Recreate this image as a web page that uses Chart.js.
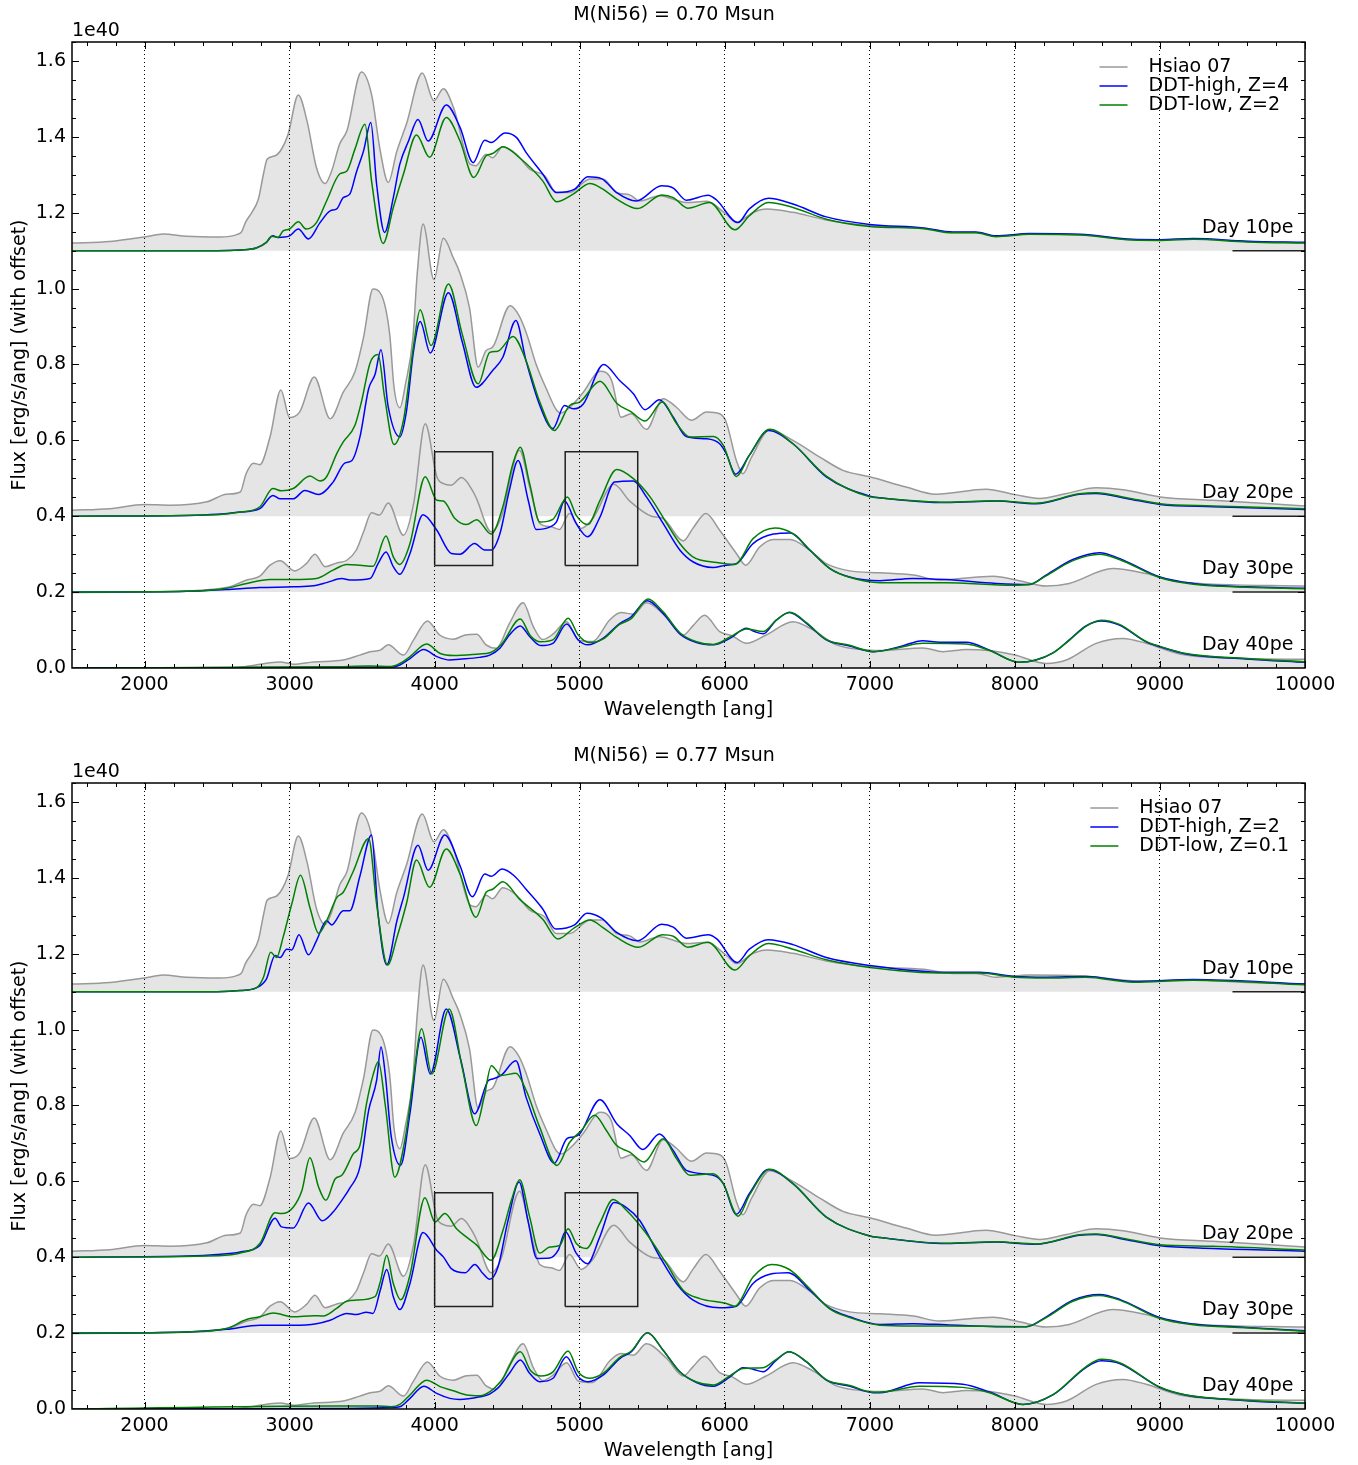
<!DOCTYPE html>
<html>
<head>
<meta charset="utf-8">
<script src="https://cdn.jsdelivr.net/npm/chart.js@4.4.1/dist/chart.umd.min.js"></script>
<style>
  body { margin: 0; background: #fff; }
  canvas { display: block; }
</style>
</head>
<body>
<canvas id="chartTop" width="1358" height="741"></canvas>
<canvas id="chartBottom" width="1358" height="724"></canvas>
<script>
// wavelength [ang], flux incl. offset [1e40 erg/s/ang]
const offsets = [1.1, 0.4, 0.2, 0.0];
const dayLabels = ['Day 10pe', 'Day 20pe', 'Day 30pe', 'Day 40pe'];
const titles = ['M(Ni56) = 0.70 Msun', 'M(Ni56) = 0.77 Msun'];
const legendTop = ['Hsiao 07', 'DDT-high, Z=4', 'DDT-low, Z=2'];
const legendBottom = ['Hsiao 07', 'DDT-high, Z=2', 'DDT-low, Z=0.1'];
const xTicks = [2000, 3000, 4000, 5000, 6000, 7000, 8000, 9000, 10000];
const yTicks = [0.0, 0.2, 0.4, 0.6, 0.8, 1.0, 1.2, 1.4, 1.6];

// Hsiao 07 template (same in both panels)
const hsiao10 = [[1500,1.120],[1760,1.124],[2000,1.136],[2130,1.144],[2290,1.138],[2520,1.136],[2640,1.143],[2670,1.150],[2695,1.174],[2740,1.201],[2785,1.236],[2820,1.302],[2845,1.341],[2900,1.350],[2945,1.368],[2990,1.407],[3060,1.510],[3120,1.442],[3185,1.319],[3245,1.277],[3290,1.310],[3345,1.381],[3395,1.416],[3495,1.571],[3565,1.512],[3625,1.363],[3680,1.280],[3740,1.363],[3805,1.433],[3915,1.568],[3995,1.495],[4060,1.527],[4130,1.477],[4245,1.328],[4285,1.324],[4355,1.354],[4400,1.345],[4470,1.374],[4565,1.354],[4655,1.315],[4760,1.297],[4840,1.253],[4930,1.253],[5070,1.289],[5160,1.289],[5255,1.253],[5345,1.247],[5415,1.231],[5550,1.245],[5735,1.227],[5875,1.230],[6010,1.196],[6080,1.174],[6195,1.201],[6290,1.210],[6470,1.201],[6700,1.181],[7000,1.166],[7370,1.159],[7570,1.148],[7730,1.148],[7870,1.138],[8100,1.144],[8450,1.142],[8810,1.129],[9000,1.128],[9230,1.131],[9600,1.124],[10000,1.121]];
const hsiao20 = [[1500,0.416],[1760,0.420],[2000,0.431],[2175,0.429],[2430,0.438],[2565,0.458],[2660,0.464],[2700,0.512],[2750,0.540],[2795,0.536],[2865,0.609],[2940,0.733],[3000,0.660],[3070,0.675],[3170,0.767],[3280,0.657],[3370,0.727],[3450,0.780],[3510,0.872],[3575,0.999],[3635,0.982],[3690,0.880],[3720,0.740],[3760,0.686],[3800,0.750],[3850,0.870],[3880,1.040],[3920,1.170],[3995,1.024],[4060,1.133],[4130,1.080],[4175,1.040],[4240,0.950],[4300,0.793],[4355,0.837],[4400,0.846],[4520,0.955],[4580,0.930],[4635,0.880],[4700,0.800],[4770,0.736],[4840,0.680],[4870,0.672],[4945,0.692],[5025,0.727],[5140,0.782],[5220,0.758],[5285,0.661],[5355,0.670],[5460,0.629],[5575,0.710],[5665,0.688],[5770,0.653],[5875,0.675],[5965,0.670],[6010,0.648],[6080,0.547],[6125,0.512],[6185,0.556],[6310,0.628],[6470,0.600],[6655,0.556],[6815,0.521],[7000,0.504],[7250,0.477],[7455,0.458],[7800,0.471],[8000,0.457],[8170,0.447],[8355,0.460],[8560,0.475],[8745,0.470],[9000,0.451],[9365,0.442],[10000,0.427]];
const hsiao30 = [[1500,0.199],[2000,0.200],[2565,0.212],[2705,0.232],[2795,0.242],[2865,0.271],[2935,0.283],[3035,0.256],[3115,0.275],[3175,0.300],[3245,0.267],[3325,0.277],[3395,0.284],[3460,0.311],[3510,0.359],[3565,0.409],[3620,0.403],[3680,0.435],[3785,0.350],[3855,0.433],[3935,0.644],[4015,0.504],[4060,0.486],[4115,0.482],[4185,0.502],[4265,0.465],[4290,0.445],[4390,0.359],[4460,0.398],[4585,0.574],[4655,0.477],[4725,0.381],[4805,0.372],[4860,0.365],[4930,0.407],[5010,0.368],[5090,0.394],[5235,0.484],[5345,0.440],[5495,0.400],[5575,0.394],[5715,0.335],[5780,0.368],[5870,0.407],[5965,0.363],[6080,0.302],[6145,0.271],[6240,0.319],[6335,0.339],[6450,0.339],[6585,0.311],[6700,0.275],[6860,0.256],[7070,0.251],[7300,0.245],[7480,0.232],[7850,0.242],[8030,0.230],[8215,0.216],[8375,0.223],[8675,0.262],[8905,0.249],[9135,0.227],[10000,0.216]];
const hsiao40 = [[1500,0.0],[2550,0.0],[2700,0.004],[2865,0.014],[2935,0.016],[3025,0.010],[3165,0.016],[3370,0.021],[3485,0.034],[3555,0.043],[3625,0.047],[3680,0.061],[3785,0.034],[3855,0.074],[3950,0.124],[4035,0.087],[4130,0.076],[4210,0.087],[4290,0.089],[4355,0.061],[4425,0.052],[4515,0.117],[4610,0.172],[4680,0.109],[4745,0.075],[4815,0.089],[4910,0.122],[4990,0.074],[5090,0.070],[5205,0.126],[5285,0.146],[5370,0.142],[5460,0.172],[5600,0.133],[5715,0.087],[5780,0.111],[5860,0.139],[5965,0.096],[6055,0.084],[6150,0.065],[6285,0.087],[6470,0.122],[6610,0.100],[6770,0.061],[7000,0.047],[7070,0.046],[7365,0.053],[7505,0.043],[7665,0.049],[7825,0.046],[8000,0.034],[8215,0.012],[8355,0.021],[8560,0.065],[8745,0.078],[8905,0.065],[9135,0.037],[9595,0.025],[10000,0.023]];

// M(Ni56) = 0.70: DDT-high Z=4 (blue), DDT-low Z=2 (green)
const highA10 = [[1500,1.100],[2500,1.100],[2660,1.102],[2770,1.107],[2840,1.122],[2885,1.139],[2920,1.135],[3000,1.139],[3060,1.157],[3130,1.131],[3210,1.174],[3280,1.205],[3325,1.210],[3370,1.240],[3415,1.249],[3460,1.306],[3510,1.363],[3560,1.438],[3600,1.275],[3655,1.148],[3715,1.240],[3760,1.328],[3820,1.389],[3885,1.446],[3955,1.389],[4080,1.484],[4175,1.425],[4265,1.332],[4345,1.391],[4390,1.385],[4485,1.410],[4565,1.398],[4630,1.359],[4745,1.302],[4840,1.253],[4965,1.262],[5055,1.295],[5150,1.290],[5255,1.253],[5390,1.231],[5565,1.271],[5645,1.265],[5735,1.233],[5885,1.246],[5945,1.233],[6090,1.174],[6170,1.210],[6300,1.238],[6470,1.223],[6700,1.189],[7000,1.169],[7370,1.160],[7570,1.149],[7730,1.149],[7870,1.139],[8100,1.145],[8450,1.143],[8810,1.130],[9000,1.129],[9230,1.132],[9600,1.125],[10000,1.122]];
const lowA10 = [[1500,1.100],[2500,1.100],[2660,1.102],[2770,1.107],[2840,1.122],[2875,1.138],[2920,1.135],[2955,1.152],[3000,1.157],[3060,1.176],[3115,1.157],[3185,1.174],[3255,1.231],[3345,1.302],[3395,1.310],[3450,1.367],[3520,1.433],[3565,1.284],[3645,1.119],[3715,1.214],[3785,1.302],[3875,1.405],[3965,1.346],[4080,1.451],[4175,1.389],[4270,1.293],[4355,1.350],[4400,1.356],[4470,1.374],[4585,1.345],[4745,1.284],[4840,1.229],[4955,1.249],[5070,1.277],[5160,1.262],[5255,1.236],[5400,1.211],[5565,1.247],[5645,1.240],[5745,1.212],[5895,1.227],[6070,1.155],[6170,1.192],[6300,1.227],[6470,1.214],[6700,1.183],[7000,1.164],[7370,1.158],[7570,1.147],[7730,1.147],[7870,1.137],[8100,1.143],[8450,1.141],[8810,1.128],[9000,1.127],[9230,1.130],[9600,1.123],[10000,1.120]];
const highA20 = [[1500,0.400],[2290,0.402],[2500,0.405],[2660,0.411],[2795,0.420],[2885,0.455],[2935,0.446],[3025,0.446],[3105,0.468],[3200,0.457],[3300,0.490],[3380,0.540],[3430,0.547],[3485,0.609],[3545,0.736],[3590,0.775],[3630,0.839],[3680,0.688],[3760,0.609],[3805,0.675],[3855,0.837],[3900,0.913],[3970,0.830],[4095,0.989],[4190,0.860],[4285,0.740],[4400,0.784],[4470,0.819],[4560,0.916],[4630,0.810],[4725,0.692],[4815,0.631],[4895,0.692],[4955,0.683],[5025,0.696],[5165,0.800],[5275,0.758],[5370,0.723],[5450,0.681],[5550,0.707],[5645,0.661],[5735,0.610],[5875,0.604],[5965,0.591],[6010,0.565],[6075,0.511],[6170,0.561],[6300,0.626],[6470,0.591],[6700,0.504],[7000,0.453],[7070,0.449],[7525,0.436],[7870,0.440],[8145,0.433],[8445,0.458],[8560,0.460],[8770,0.447],[9000,0.431],[9365,0.425],[10000,0.418]];
const lowA20 = [[1500,0.400],[2500,0.404],[2660,0.411],[2795,0.425],[2885,0.473],[2945,0.467],[3025,0.473],[3140,0.506],[3210,0.493],[3255,0.504],[3325,0.565],[3370,0.596],[3450,0.639],[3495,0.701],[3555,0.804],[3610,0.826],[3655,0.714],[3720,0.589],[3785,0.653],[3855,0.850],[3900,0.944],[3975,0.850],[4095,1.012],[4190,0.880],[4300,0.749],[4380,0.832],[4435,0.835],[4540,0.874],[4630,0.810],[4725,0.701],[4825,0.626],[4930,0.692],[5000,0.701],[5140,0.756],[5255,0.698],[5355,0.675],[5450,0.651],[5570,0.701],[5665,0.646],[5760,0.609],[5920,0.610],[5990,0.587],[6080,0.505],[6170,0.561],[6310,0.629],[6470,0.591],[6700,0.506],[7000,0.451],[7070,0.448],[7525,0.437],[7870,0.441],[8145,0.434],[8445,0.459],[8560,0.462],[8770,0.449],[9000,0.433],[9365,0.427],[10000,0.420]];
const highA30 = [[1500,0.200],[2290,0.202],[2565,0.207],[2795,0.212],[3025,0.214],[3165,0.217],[3255,0.225],[3360,0.236],[3415,0.232],[3555,0.236],[3610,0.275],[3665,0.306],[3715,0.267],[3760,0.247],[3830,0.302],[3920,0.404],[4015,0.363],[4115,0.302],[4175,0.300],[4275,0.328],[4345,0.311],[4390,0.311],[4450,0.354],[4515,0.468],[4575,0.547],[4645,0.442],[4700,0.365],[4795,0.372],[4840,0.385],[4895,0.440],[4975,0.381],[5055,0.346],[5140,0.398],[5240,0.490],[5370,0.493],[5460,0.451],[5575,0.381],[5690,0.311],[5780,0.280],[5920,0.265],[6010,0.271],[6080,0.275],[6195,0.328],[6335,0.353],[6450,0.356],[6585,0.311],[6725,0.262],[6860,0.240],[7070,0.230],[7295,0.236],[7525,0.233],[7870,0.223],[8100,0.220],[8215,0.245],[8400,0.286],[8585,0.304],[8720,0.289],[9000,0.240],[9230,0.223],[9595,0.214],[10000,0.210]];
const lowA30 = [[1500,0.200],[2290,0.202],[2565,0.210],[2705,0.223],[2865,0.233],[3025,0.233],[3185,0.236],[3300,0.258],[3395,0.273],[3485,0.271],[3575,0.268],[3665,0.348],[3715,0.293],[3760,0.273],[3830,0.328],[3935,0.504],[4015,0.442],[4060,0.440],[4140,0.394],[4220,0.378],[4290,0.391],[4390,0.353],[4470,0.425],[4540,0.539],[4590,0.582],[4655,0.486],[4725,0.385],[4815,0.392],[4915,0.451],[4975,0.403],[5055,0.378],[5140,0.442],[5255,0.523],[5370,0.499],[5485,0.451],[5600,0.381],[5690,0.328],[5780,0.293],[5945,0.278],[6070,0.273],[6195,0.341],[6345,0.369],[6470,0.354],[6610,0.302],[6725,0.262],[6860,0.239],[7070,0.225],[7295,0.225],[7525,0.225],[7985,0.218],[8100,0.220],[8215,0.243],[8400,0.283],[8585,0.300],[8720,0.286],[9000,0.238],[9230,0.221],[9595,0.213],[10000,0.209]];
const highA40 = [[1500,0.000],[3700,0.002],[3760,0.008],[3830,0.025],[3925,0.049],[4015,0.030],[4105,0.021],[4170,0.023],[4310,0.028],[4380,0.034],[4450,0.052],[4515,0.087],[4590,0.111],[4655,0.083],[4730,0.059],[4815,0.065],[4910,0.116],[4990,0.074],[5055,0.061],[5160,0.078],[5275,0.117],[5355,0.135],[5465,0.177],[5575,0.144],[5690,0.090],[5805,0.067],[5920,0.061],[6035,0.078],[6150,0.105],[6205,0.096],[6265,0.090],[6355,0.126],[6445,0.146],[6565,0.117],[6700,0.074],[6860,0.058],[7025,0.043],[7205,0.056],[7365,0.072],[7480,0.068],[7665,0.068],[7825,0.047],[8030,0.015],[8145,0.021],[8260,0.039],[8375,0.074],[8490,0.111],[8595,0.124],[8720,0.113],[8905,0.069],[9000,0.056],[9180,0.037],[9595,0.024],[10000,0.015]];
const lowA40 = [[1500,0.000],[3300,0.003],[3550,0.005],[3700,0.004],[3760,0.012],[3830,0.030],[3945,0.063],[4035,0.039],[4130,0.033],[4310,0.037],[4380,0.040],[4460,0.062],[4590,0.129],[4660,0.085],[4730,0.069],[4815,0.074],[4920,0.131],[4990,0.087],[5065,0.067],[5160,0.076],[5275,0.115],[5355,0.130],[5470,0.182],[5575,0.148],[5690,0.093],[5805,0.069],[5920,0.062],[6035,0.081],[6150,0.103],[6265,0.096],[6355,0.126],[6450,0.147],[6565,0.119],[6700,0.075],[6860,0.060],[7025,0.043],[7205,0.054],[7365,0.065],[7665,0.063],[7825,0.046],[8030,0.015],[8145,0.021],[8260,0.039],[8375,0.073],[8490,0.110],[8595,0.126],[8720,0.115],[8905,0.070],[9000,0.057],[9180,0.038],[9595,0.025],[10000,0.016]];

// M(Ni56) = 0.77: DDT-high Z=2 (blue), DDT-low Z=0.1 (green)
const highB10 = [[1500,1.100],[2500,1.100],[2660,1.103],[2770,1.110],[2840,1.133],[2900,1.195],[2935,1.190],[2980,1.212],[3015,1.210],[3065,1.250],[3130,1.197],[3185,1.234],[3255,1.287],[3290,1.276],[3370,1.313],[3415,1.313],[3485,1.405],[3565,1.513],[3610,1.304],[3670,1.171],[3740,1.287],[3785,1.348],[3885,1.486],[3955,1.420],[4070,1.513],[4175,1.432],[4260,1.350],[4345,1.410],[4390,1.404],[4465,1.423],[4550,1.405],[4630,1.370],[4745,1.318],[4835,1.265],[4965,1.276],[5050,1.307],[5150,1.294],[5255,1.256],[5400,1.234],[5565,1.278],[5645,1.270],[5735,1.241],[5885,1.250],[5945,1.239],[6085,1.177],[6170,1.212],[6300,1.237],[6470,1.224],[6700,1.190],[7000,1.169],[7525,1.151],[7755,1.151],[8000,1.140],[8215,1.138],[8490,1.140],[8815,1.127],[9230,1.132],[10000,1.120]];
const lowB10 = [[1500,1.100],[2500,1.100],[2660,1.103],[2770,1.110],[2820,1.138],[2870,1.204],[2910,1.190],[2955,1.243],[3015,1.331],[3075,1.407],[3140,1.322],[3200,1.254],[3255,1.287],[3325,1.348],[3370,1.362],[3440,1.418],[3545,1.504],[3600,1.331],[3675,1.170],[3740,1.243],[3805,1.331],[3875,1.447],[3965,1.375],[4080,1.476],[4175,1.410],[4285,1.296],[4355,1.362],[4400,1.370],[4470,1.390],[4585,1.344],[4745,1.291],[4850,1.239],[4965,1.269],[5070,1.289],[5160,1.269],[5255,1.243],[5405,1.217],[5570,1.250],[5645,1.246],[5745,1.217],[5885,1.230],[6070,1.157],[6170,1.195],[6300,1.227],[6470,1.212],[6700,1.184],[7000,1.164],[7525,1.149],[7755,1.149],[8000,1.138],[8215,1.136],[8490,1.138],[8815,1.125],[9230,1.130],[10000,1.118]];
const highB20 = [[1500,0.400],[2290,0.403],[2500,0.407],[2660,0.414],[2795,0.431],[2900,0.503],[2945,0.480],[3025,0.477],[3130,0.543],[3225,0.496],[3300,0.519],[3360,0.550],[3415,0.582],[3485,0.638],[3545,0.787],[3600,0.866],[3630,0.954],[3660,0.880],[3700,0.720],[3765,0.642],[3830,0.780],[3905,0.980],[3970,0.883],[4080,1.054],[4180,0.920],[4276,0.778],[4370,0.866],[4400,0.870],[4460,0.880],[4560,0.918],[4630,0.822],[4725,0.725],[4825,0.648],[4910,0.712],[4955,0.717],[5000,0.725],[5140,0.815],[5255,0.752],[5345,0.721],[5435,0.684],[5550,0.725],[5645,0.681],[5735,0.629],[5920,0.616],[5990,0.594],[6080,0.513],[6170,0.568],[6300,0.631],[6470,0.594],[6700,0.506],[7000,0.456],[7070,0.452],[7525,0.436],[7870,0.440],[8145,0.434],[8445,0.458],[8560,0.460],[8770,0.446],[9000,0.430],[9365,0.423],[10000,0.416]];
const lowB20 = [[1500,0.400],[2500,0.404],[2660,0.411],[2795,0.436],[2900,0.517],[2945,0.515],[3025,0.532],[3085,0.576],[3140,0.662],[3200,0.585],[3250,0.550],[3315,0.607],[3360,0.616],[3440,0.673],[3485,0.695],[3530,0.804],[3575,0.880],[3612,0.916],[3660,0.800],[3725,0.611],[3800,0.720],[3850,0.860],[3910,1.002],[3980,0.883],[4100,1.054],[4190,0.900],[4287,0.747],[4340,0.820],[4391,0.905],[4460,0.879],[4560,0.885],[4632,0.839],[4724,0.743],[4844,0.642],[4931,0.703],[5011,0.734],[5103,0.774],[5184,0.734],[5253,0.695],[5345,0.677],[5444,0.651],[5575,0.712],[5667,0.660],[5759,0.616],[5920,0.620],[5990,0.594],[6092,0.508],[6172,0.565],[6310,0.632],[6470,0.594],[6700,0.506],[7000,0.456],[7070,0.452],[7525,0.437],[7870,0.441],[8145,0.435],[8445,0.459],[8560,0.461],[8770,0.448],[9000,0.433],[9365,0.429],[10000,0.419]];
const highB30 = [[1500,0.200],[2290,0.203],[2565,0.210],[2795,0.221],[3025,0.221],[3185,0.225],[3280,0.234],[3395,0.252],[3460,0.249],[3530,0.255],[3575,0.252],[3625,0.313],[3670,0.368],[3715,0.296],[3760,0.262],[3830,0.331],[3920,0.465],[4015,0.418],[4060,0.401],[4115,0.370],[4210,0.359],[4277,0.381],[4333,0.357],[4380,0.342],[4437,0.375],[4506,0.497],[4582,0.598],[4643,0.497],[4705,0.397],[4793,0.398],[4851,0.418],[4902,0.467],[4977,0.410],[5053,0.383],[5138,0.453],[5237,0.544],[5322,0.531],[5414,0.497],[5552,0.401],[5667,0.331],[5782,0.287],[5966,0.267],[6080,0.271],[6195,0.331],[6310,0.355],[6437,0.359],[6586,0.313],[6724,0.265],[6862,0.243],[7069,0.223],[7297,0.225],[7526,0.222],[7870,0.217],[8078,0.217],[8216,0.243],[8400,0.287],[8584,0.302],[8722,0.289],[8998,0.241],[9228,0.224],[9595,0.215],[10000,0.206]];
const lowB30 = [[1500,0.200],[2290,0.203],[2565,0.212],[2703,0.236],[2795,0.243],[2887,0.253],[3025,0.243],[3163,0.246],[3232,0.245],[3324,0.265],[3393,0.284],[3462,0.287],[3589,0.296],[3628,0.339],[3669,0.405],[3715,0.331],[3766,0.288],[3830,0.353],[3933,0.557],[4002,0.493],[4071,0.515],[4151,0.475],[4220,0.453],[4290,0.432],[4389,0.392],[4471,0.471],[4529,0.550],[4586,0.604],[4655,0.506],[4724,0.411],[4793,0.427],[4862,0.431],[4920,0.475],[4977,0.436],[5046,0.423],[5138,0.489],[5230,0.552],[5322,0.524],[5460,0.462],[5598,0.383],[5713,0.313],[5828,0.291],[6011,0.278],[6069,0.271],[6195,0.348],[6322,0.381],[6448,0.367],[6586,0.317],[6724,0.264],[6862,0.241],[7069,0.221],[7297,0.219],[7526,0.219],[8078,0.217],[8216,0.241],[8400,0.284],[8584,0.299],[8722,0.287],[8998,0.239],[9228,0.222],[9595,0.214],[10000,0.205]];
const highB40 = [[1500,0.000],[3300,0.001],[3700,0.004],[3760,0.006],[3830,0.028],[3926,0.060],[4014,0.041],[4105,0.028],[4172,0.025],[4312,0.032],[4379,0.039],[4448,0.060],[4517,0.095],[4591,0.129],[4655,0.094],[4724,0.072],[4816,0.081],[4908,0.138],[4989,0.085],[5057,0.072],[5161,0.089],[5276,0.133],[5356,0.151],[5467,0.201],[5575,0.155],[5690,0.098],[5805,0.070],[5920,0.060],[6034,0.084],[6126,0.109],[6195,0.105],[6264,0.098],[6356,0.129],[6443,0.151],[6563,0.124],[6701,0.076],[6862,0.060],[7023,0.043],[7067,0.043],[7343,0.069],[7641,0.065],[7825,0.045],[8055,0.012],[8262,0.037],[8492,0.110],[8595,0.127],[8722,0.120],[8998,0.057],[9182,0.036],[9595,0.022],[10000,0.015]];
const lowB40 = [[1500,0.000],[3300,0.008],[3600,0.008],[3700,0.006],[3760,0.012],[3830,0.037],[3945,0.076],[4037,0.059],[4128,0.048],[4220,0.037],[4312,0.035],[4379,0.045],[4460,0.075],[4591,0.151],[4660,0.102],[4730,0.087],[4816,0.098],[4920,0.153],[4989,0.098],[5065,0.081],[5161,0.094],[5276,0.136],[5356,0.153],[5467,0.201],[5575,0.155],[5690,0.098],[5805,0.071],[5920,0.063],[6034,0.087],[6126,0.107],[6264,0.109],[6356,0.131],[6443,0.151],[6563,0.125],[6701,0.077],[6862,0.062],[7023,0.044],[7067,0.044],[7343,0.060],[7641,0.057],[7825,0.043],[8055,0.012],[8262,0.038],[8492,0.112],[8595,0.131],[8722,0.122],[8998,0.058],[9182,0.037],[9595,0.023],[10000,0.016]];

// highlighted regions and offset markers
const boxSi = [[4000,0.27],[4400,0.27],[4400,0.57],[4000,0.57],[4000,0.27]];
const boxS = [[4900,0.27],[5400,0.27],[5400,0.57],[4900,0.57],[4900,0.27]];
const markerRange = [9500, 10000];

const hsiao = [hsiao10, hsiao20, hsiao30, hsiao40];
const panelA = { high: [highA10, highA20, highA30, highA40], low: [lowA10, lowA20, lowA30, lowA40] };
const panelB = { high: [highB10, highB20, highB30, highB40], low: [lowB10, lowB20, lowB30, lowB40] };

const FONT = '"DejaVu Sans", sans-serif';
const FSIZE = 19;
const GRAY = '#999999';
const FILL = '#e5e5e5';

function pts(arr) { return arr.map(([x, y]) => ({ x, y })); }

function curve(arr, color, order, base) {
    return {
        data: pts(arr),
        borderColor: color,
        borderWidth: 1.5,
        pointRadius: 0,
        cubicInterpolationMode: 'monotone',
        order: order,
        fill: base === undefined ? false : { value: base },
        backgroundColor: FILL
    };
}

function plain(arr) {
    return { data: pts(arr), borderColor: '#222', borderWidth: 1.5, pointRadius: 0, tension: 0, fill: false, order: 0 };
}

function buildDatasets(panel) {
    const ds = [];
    for (let i = 0; i < 4; i++) {
        ds.push(curve(hsiao[i], GRAY, 3, offsets[i]));
        ds.push(curve(panel.high[i], '#0000ff', 2));
        ds.push(curve(panel.low[i], '#008000', 1));
    }
    ds.push(plain(boxSi), plain(boxS));
    for (let i = 0; i < 3; i++) {
        ds.push(plain([[markerRange[0], offsets[i]], [markerRange[1], offsets[i]]]));
    }
    return ds;
}

// frame, inward ticks, titles, legend, epoch labels
const decor = {
    id: 'decor',
    afterDraw(chart, args, opts) {
        const { ctx, chartArea: a, scales: { x, y } } = chart;
        ctx.save();
        ctx.strokeStyle = '#000';
        ctx.lineWidth = 1;
        ctx.beginPath();
        for (let w = 1600; w <= 10000; w += 200) {
            const px = Math.round(x.getPixelForValue(w)) + 0.5;
            const len = w % 1000 === 0 ? 7 : 4;
            ctx.moveTo(px, a.bottom); ctx.lineTo(px, a.bottom - len);
            ctx.moveTo(px, a.top); ctx.lineTo(px, a.top + len);
        }
        for (let k = 1; k <= 33; k++) {
            const py = Math.round(y.getPixelForValue(k * 0.05)) + 0.5;
            const len = k % 4 === 0 ? 7 : 4;
            ctx.moveTo(a.left, py); ctx.lineTo(a.left + len, py);
            ctx.moveTo(a.right, py); ctx.lineTo(a.right - len, py);
        }
        ctx.stroke();
        ctx.lineWidth = 1.5;
        ctx.strokeRect(a.left, a.top, a.right - a.left, a.bottom - a.top);

        ctx.fillStyle = '#000';
        ctx.font = FSIZE + 'px ' + FONT;
        ctx.textBaseline = 'middle';

        ctx.textAlign = 'center';
        ctx.fillText(opts.title, 674, 15);
        ctx.fillText('Wavelength [ang]', (a.left + a.right) / 2, a.bottom + 42);
        ctx.save();
        ctx.translate(20, (a.top + a.bottom) / 2);
        ctx.rotate(-Math.PI / 2);
        ctx.fillText('Flux [erg/s/ang] (with offset)', 0, 0);
        ctx.restore();

        ctx.textAlign = 'left';
        ctx.fillText('1e40', a.left, a.top - 11);

        // legend
        const colors = [GRAY, '#0000ff', '#008000'];
        const widest = Math.max(...opts.legend.map(t => ctx.measureText(t).width));
        const tx = a.right - 16 - widest;
        opts.legend.forEach((label, i) => {
            const ly = a.top + 25 + i * 19;
            ctx.strokeStyle = colors[i];
            ctx.lineWidth = 1.5;
            ctx.beginPath();
            ctx.moveTo(tx - 49, ly);
            ctx.lineTo(tx - 21, ly);
            ctx.stroke();
            ctx.fillText(label, tx, ly);
        });

        // epoch labels
        ctx.textAlign = 'right';
        dayLabels.forEach((label, i) => {
            ctx.fillText(label, x.getPixelForValue(9920), y.getPixelForValue(offsets[i] + 0.06));
        });
        ctx.restore();
    }
};

function makeChart(id, panel, title, legend, xHeight) {
    return new Chart(document.getElementById(id), {
        type: 'line',
        data: { datasets: buildDatasets(panel) },
        options: {
            responsive: false,
            animation: false,
            layout: { padding: { top: 42, right: 53, left: 0, bottom: 0 } },
            plugins: {
                legend: { display: false },
                tooltip: { enabled: false },
                filler: { drawTime: 'beforeDatasetsDraw' },
                decor: { title: title, legend: legend }
            },
            scales: {
                x: {
                    type: 'linear',
                    min: 1500,
                    max: 10000,
                    afterFit: s => { s.height = xHeight; },
                    afterBuildTicks: s => { s.ticks = xTicks.map(v => ({ value: v })); },
                    ticks: {
                        autoSkip: false,
                        color: '#000',
                        padding: 6,
                        maxRotation: 0,
                        font: { family: FONT, size: FSIZE },
                        callback: v => String(v)
                    },
                    grid: {
                        z: 1,
                        drawTicks: false,
                        lineWidth: 1,
                        color: c => (c.tick && c.tick.value < 10000) ? '#000' : 'rgba(0,0,0,0)'
                    },
                    border: { display: false, dash: [1, 3] }
                },
                y: {
                    min: 0,
                    max: 1.65,
                    afterFit: s => { s.width = 72; },
                    afterBuildTicks: s => { s.ticks = yTicks.map(v => ({ value: v })); },
                    ticks: {
                        autoSkip: false,
                        color: '#000',
                        padding: 6,
                        font: { family: FONT, size: FSIZE },
                        callback: v => v.toFixed(1)
                    },
                    grid: { display: false, drawTicks: false },
                    border: { display: false }
                }
            }
        },
        plugins: [decor]
    });
}

makeChart('chartTop', panelA, titles[0], legendTop, 73);
makeChart('chartBottom', panelB, titles[1], legendBottom, 56);
</script>
</body>
</html>
